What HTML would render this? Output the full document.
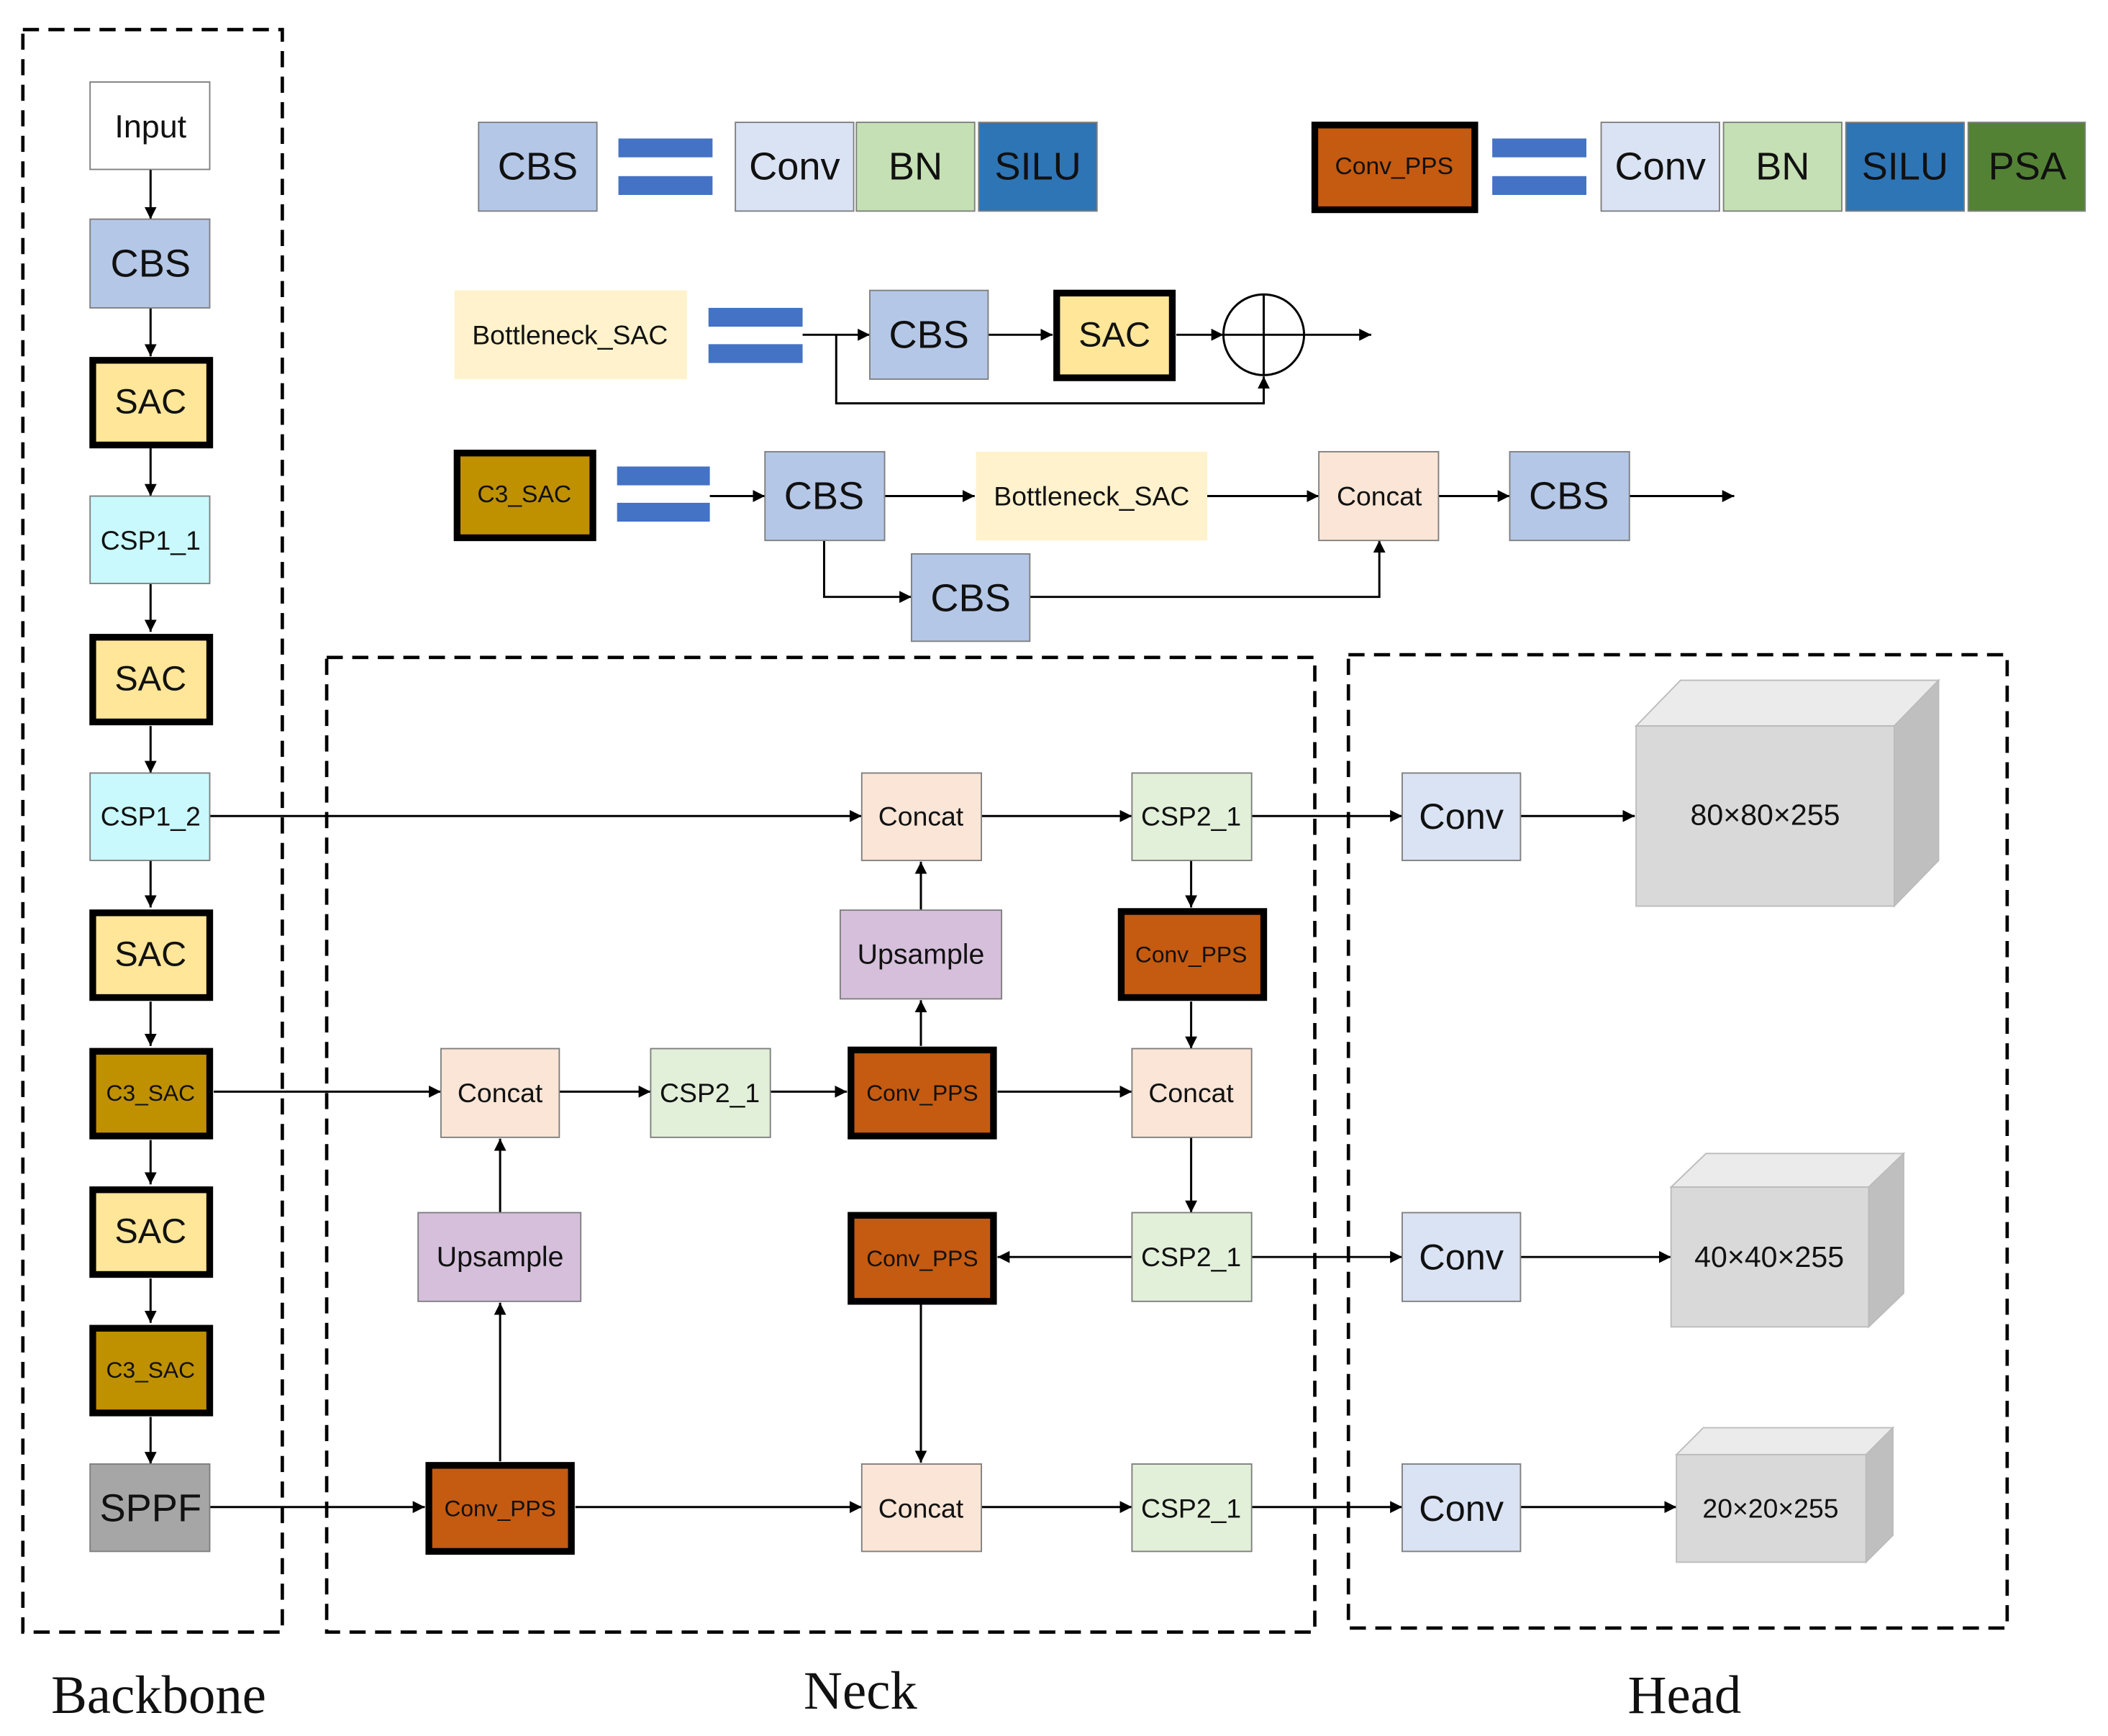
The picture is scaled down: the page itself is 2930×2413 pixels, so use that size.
<!DOCTYPE html>
<html><head><meta charset="utf-8"><style>
html,body{margin:0;padding:0;background:#fff}
svg{display:block}
text{font-family:"Liberation Sans",sans-serif;text-anchor:middle;dominant-baseline:central;fill:#111}
.s{font-size:20px}.m{font-size:22px}.l{font-size:29px}
.lab{font-family:"Liberation Serif",serif;font-size:40px}
</style></head><body>
<svg width="2930" height="2413" viewBox="0 0 1568 1291.3" xmlns="http://www.w3.org/2000/svg">
<defs><marker id="a" viewBox="0 0 10 10" refX="10" refY="5" markerWidth="9" markerHeight="9" markerUnits="userSpaceOnUse" orient="auto"><path d="M0,0L10,5L0,10z" fill="#000"/></marker></defs>
<g fill="none" stroke="#000" stroke-width="2.5" stroke-dasharray="12,7">
<rect x="17" y="22" width="193" height="1192"/>
<rect x="243" y="489" width="735" height="725"/>
<rect x="1003" y="487" width="490" height="724"/>
</g>
<g stroke="#000" stroke-width="1.6" fill="none" marker-end="url(#a)">
<line x1="112" y1="126" x2="112" y2="163"/>
<line x1="112" y1="229" x2="112" y2="265"/>
<line x1="112" y1="333" x2="112" y2="369"/>
<line x1="112" y1="434" x2="112" y2="470"/>
<line x1="112" y1="540" x2="112" y2="575"/>
<line x1="112" y1="640" x2="112" y2="675"/>
<line x1="112" y1="745" x2="112" y2="778"/>
<line x1="112" y1="848" x2="112" y2="881"/>
<line x1="112" y1="951" x2="112" y2="984"/>
<line x1="112" y1="1054" x2="112" y2="1089"/>
<line x1="597" y1="249" x2="647" y2="249"/>
<line x1="735" y1="249" x2="783" y2="249"/>
<line x1="875" y1="249" x2="910" y2="249"/>
<line x1="970" y1="249" x2="1020" y2="249"/>
<polyline points="622,249 622,300 940,300 940,280"/>
<line x1="528" y1="369" x2="569" y2="369"/>
<line x1="658" y1="369" x2="725" y2="369"/>
<line x1="898" y1="369" x2="981" y2="369"/>
<line x1="1070" y1="369" x2="1123" y2="369"/>
<line x1="1212" y1="369" x2="1290" y2="369"/>
<polyline points="613,402 613,444 678,444"/>
<polyline points="766,444 1026,444 1026,402"/>
<line x1="156" y1="607" x2="641" y2="607"/>
<line x1="730" y1="607" x2="842" y2="607"/>
<line x1="931" y1="607" x2="1043" y2="607"/>
<line x1="1131" y1="607" x2="1216" y2="607"/>
<line x1="685" y1="677" x2="685" y2="641"/>
<line x1="685" y1="778" x2="685" y2="744"/>
<line x1="886" y1="640" x2="886" y2="675"/>
<line x1="886" y1="745" x2="886" y2="780"/>
<line x1="159" y1="812" x2="328" y2="812"/>
<line x1="416" y1="812" x2="484" y2="812"/>
<line x1="573" y1="812" x2="630" y2="812"/>
<line x1="742" y1="812" x2="842" y2="812"/>
<line x1="886" y1="846" x2="886" y2="902"/>
<line x1="842" y1="935" x2="742" y2="935"/>
<line x1="931" y1="935" x2="1043" y2="935"/>
<line x1="1131" y1="935" x2="1243" y2="935"/>
<line x1="372" y1="902" x2="372" y2="847"/>
<line x1="372" y1="1087" x2="372" y2="969"/>
<line x1="156" y1="1121" x2="316" y2="1121"/>
<line x1="428" y1="1121" x2="641" y2="1121"/>
<line x1="685" y1="970" x2="685" y2="1088"/>
<line x1="730" y1="1121" x2="842" y2="1121"/>
<line x1="931" y1="1121" x2="1043" y2="1121"/>
<line x1="1131" y1="1121" x2="1247" y2="1121"/>
</g>
<circle cx="940" cy="249" r="30" fill="#fff" stroke="#000" stroke-width="1.6"/>
<line x1="910" y1="249" x2="970" y2="249" stroke="#000" stroke-width="1.6"/>
<line x1="940" y1="219" x2="940" y2="279" stroke="#000" stroke-width="1.6"/>
<g fill="#4472c4">
<rect x="460" y="103" width="70" height="14"/><rect x="460" y="131" width="70" height="14"/>
<rect x="1110" y="103" width="70" height="14"/><rect x="1110" y="131" width="70" height="14"/>
<rect x="527" y="229" width="70" height="14"/><rect x="527" y="256" width="70" height="14"/>
<rect x="459" y="347" width="69" height="14"/><rect x="459" y="374" width="69" height="14"/>
</g>
<g stroke="#7f7f7f" stroke-width="1">
<rect x="67" y="61" width="89" height="65" fill="#fff"/>
<rect x="67" y="163" width="89" height="66" fill="#b4c7e7"/>
<rect x="67" y="369" width="89" height="65" fill="#c9f9fc"/>
<rect x="67" y="575" width="89" height="65" fill="#c9f9fc"/>
<rect x="67" y="1089" width="89" height="65" fill="#a6a6a6"/>
<rect x="356" y="91" width="88" height="66" fill="#b4c7e7"/>
<rect x="547" y="91" width="88" height="66" fill="#dae3f3"/>
<rect x="637" y="91" width="88" height="66" fill="#c5e0b4"/>
<rect x="728" y="91" width="88" height="66" fill="#2e75b6"/>
<rect x="1191" y="91" width="88" height="66" fill="#dae3f3"/>
<rect x="1282" y="91" width="88" height="66" fill="#c5e0b4"/>
<rect x="1373" y="91" width="88" height="66" fill="#2e75b6"/>
<rect x="1464" y="91" width="87" height="66" fill="#548235"/>
<rect x="647" y="216" width="88" height="66" fill="#b4c7e7"/>
<rect x="569" y="336" width="89" height="66" fill="#b4c7e7"/>
<rect x="981" y="336" width="89" height="66" fill="#fbe5d6"/>
<rect x="1123" y="336" width="89" height="66" fill="#b4c7e7"/>
<rect x="678" y="412" width="88" height="65" fill="#b4c7e7"/>
<rect x="641" y="575" width="89" height="65" fill="#fbe5d6"/>
<rect x="842" y="575" width="89" height="65" fill="#e2f0d9"/>
<rect x="1043" y="575" width="88" height="65" fill="#dae3f3"/>
<rect x="625" y="677" width="120" height="66" fill="#d5bfdb"/>
<rect x="328" y="780" width="88" height="66" fill="#fbe5d6"/>
<rect x="484" y="780" width="89" height="66" fill="#e2f0d9"/>
<rect x="842" y="780" width="89" height="66" fill="#fbe5d6"/>
<rect x="842" y="902" width="89" height="66" fill="#e2f0d9"/>
<rect x="1043" y="902" width="88" height="66" fill="#dae3f3"/>
<rect x="311" y="902" width="121" height="66" fill="#d5bfdb"/>
<rect x="641" y="1089" width="89" height="65" fill="#fbe5d6"/>
<rect x="842" y="1089" width="89" height="65" fill="#e2f0d9"/>
<rect x="1043" y="1089" width="88" height="65" fill="#dae3f3"/>
</g>
<rect x="338" y="216" width="173" height="66" fill="#fff2cc"/>
<rect x="726" y="336" width="172" height="66" fill="#fff2cc"/>
<g stroke="#000" stroke-width="5">
<rect x="69" y="268" width="87" height="63" fill="#ffe699"/>
<rect x="69" y="474" width="87" height="63" fill="#ffe699"/>
<rect x="69" y="679" width="87" height="63" fill="#ffe699"/>
<rect x="69" y="885" width="87" height="63" fill="#ffe699"/>
<rect x="69" y="782" width="87" height="63" fill="#bf9000"/>
<rect x="69" y="988" width="87" height="63" fill="#bf9000"/>
<rect x="978" y="93" width="119" height="63" fill="#c55a11"/>
<rect x="786" y="218" width="86" height="63" fill="#ffe699"/>
<rect x="340" y="337" width="101" height="63" fill="#bf9000"/>
<rect x="834" y="678" width="106" height="64" fill="#c55a11"/>
<rect x="633" y="781" width="106" height="64" fill="#c55a11"/>
<rect x="633" y="904" width="106" height="64" fill="#c55a11"/>
<rect x="319" y="1090" width="106" height="64" fill="#c55a11"/>
</g>
<g stroke="#bbb" stroke-width="1">
<polygon points="1217,540 1250,506 1442,506 1409,540" fill="#ebebeb"/>
<polygon points="1409,540 1442,506 1442,640 1409,674" fill="#bfbfbf"/>
<rect x="1217" y="540" width="192" height="134" fill="#d9d9d9"/>
<polygon points="1243,883 1269,858 1416,858 1390,883" fill="#ebebeb"/>
<polygon points="1390,883 1416,858 1416,962 1390,987" fill="#bfbfbf"/>
<rect x="1243" y="883" width="147" height="104" fill="#d9d9d9"/>
<polygon points="1247,1082 1267,1062 1408,1062 1388,1082" fill="#ebebeb"/>
<polygon points="1388,1082 1408,1062 1408,1142 1388,1162" fill="#bfbfbf"/>
<rect x="1247" y="1082" width="141" height="80" fill="#d9d9d9"/>
</g>
<text x="112" y="94" class="m" style="font-size:24px">Input</text>
<text x="112" y="196" class="l">CBS</text>
<text x="112" y="299" class="l" style="font-size:26px">SAC</text>
<text x="112" y="402" class="s">CSP1_1</text>
<text x="112" y="505" class="l" style="font-size:26px">SAC</text>
<text x="112" y="607" class="s">CSP1_2</text>
<text x="112" y="710" class="l" style="font-size:26px">SAC</text>
<text x="112" y="813" class="s" style="font-size:17px">C3_SAC</text>
<text x="112" y="916" class="l" style="font-size:26px">SAC</text>
<text x="112" y="1019" class="s" style="font-size:17px">C3_SAC</text>
<text x="112" y="1122" class="l">SPPF</text>
<text x="400" y="124" class="l">CBS</text>
<text x="591" y="124" class="l">Conv</text>
<text x="681" y="124" class="l">BN</text>
<text x="772" y="124" class="l">SILU</text>
<text x="1037" y="124" class="s" style="font-size:18px">Conv_PPS</text>
<text x="1235" y="124" class="l">Conv</text>
<text x="1326" y="124" class="l">BN</text>
<text x="1417" y="124" class="l">SILU</text>
<text x="1508" y="124" class="l">PSA</text>
<text x="424" y="249" class="s">Bottleneck_SAC</text>
<text x="691" y="249" class="l">CBS</text>
<text x="829" y="249" class="l" style="font-size:26px">SAC</text>
<text x="390" y="368" class="s" style="font-size:18px">C3_SAC</text>
<text x="613" y="369" class="l">CBS</text>
<text x="812" y="369" class="s">Bottleneck_SAC</text>
<text x="1026" y="369" class="s">Concat</text>
<text x="1167" y="369" class="l">CBS</text>
<text x="722" y="445" class="l">CBS</text>
<text x="685" y="607" class="s">Concat</text>
<text x="886" y="607" class="s">CSP2_1</text>
<text x="1087" y="607" class="l" style="font-size:27px">Conv</text>
<text x="1313" y="606" class="m">80×80×255</text>
<text x="685" y="710" class="s" style="font-size:21px">Upsample</text>
<text x="886" y="710" class="s" style="font-size:17px">Conv_PPS</text>
<text x="372" y="813" class="s">Concat</text>
<text x="528" y="813" class="s">CSP2_1</text>
<text x="686" y="813" class="s" style="font-size:17px">Conv_PPS</text>
<text x="886" y="813" class="s">Concat</text>
<text x="372" y="935" class="s" style="font-size:21px">Upsample</text>
<text x="686" y="936" class="s" style="font-size:17px">Conv_PPS</text>
<text x="886" y="935" class="s">CSP2_1</text>
<text x="1087" y="935" class="l" style="font-size:27px">Conv</text>
<text x="1316" y="935" class="m">40×40×255</text>
<text x="372" y="1122" class="s" style="font-size:17px">Conv_PPS</text>
<text x="685" y="1122" class="s">Concat</text>
<text x="886" y="1122" class="s">CSP2_1</text>
<text x="1087" y="1122" class="l" style="font-size:27px">Conv</text>
<text x="1317" y="1122" class="s">20×20×255</text>
<text x="118" y="1261" class="lab">Backbone</text>
<text x="640" y="1258" class="lab">Neck</text>
<text x="1253" y="1261" class="lab">Head</text>
</svg>
</body></html>
